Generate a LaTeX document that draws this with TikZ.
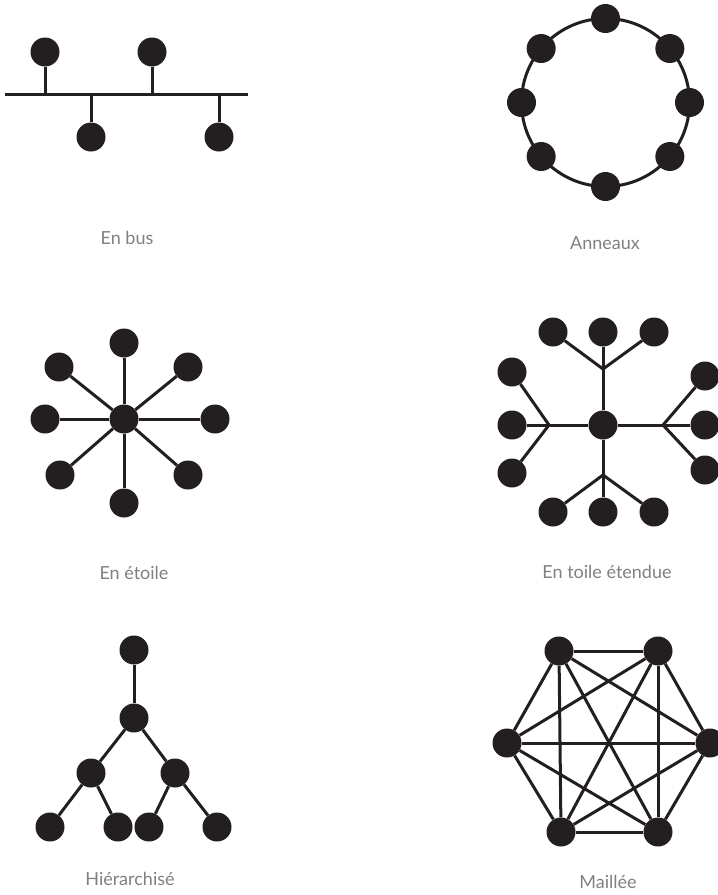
\documentclass[tikz,border=0pt]{standalone}
\usepackage{fontspec}
\setmainfont{Lato}
\usetikzlibrary{calc}
\definecolor{ink}{HTML}{231F20}
\definecolor{caption}{HTML}{808080}

\begin{document}
\begin{tikzpicture}[
        x=1pt, y=-1pt,
        dot/.style={circle, fill=ink, minimum size=29pt, inner sep=0pt},
        link/.style={draw=ink, line width=3pt},
        legend/.style={text=caption, font=\fontsize{18}{21}\selectfont}
    ]
        \useasboundingbox (0,0) rectangle (718,895);

        % en bus
        \coordinate (busL) at (5,94);
        \coordinate (busR) at (248,94);
        \node[dot] (b1) at (45,52) {};
        \node[dot] (b2) at (152,52) {};
        \node[dot] (b3) at (91,137) {};
        \node[dot] (b4) at (219,137) {};
        \draw[link] (busL) -- (busR);
        \draw[link] (b1) -- (b1 |- busL);
        \draw[link] (b2) -- (b2 |- busL);
        \draw[link] (b3) -- (b3 |- busL);
        \draw[link] (b4) -- (b4 |- busL);
        \node[legend] (lbus) at (127,238) {En bus};

        % anneaux
        \coordinate (ringC) at (605.5,102.5);
        \draw[link] (ringC) circle[radius=84pt];
        \foreach \a [count=\i] in {90,40,0,-40,-90,-140,180,140}
            \node[dot] (r\i) at ($(ringC)+(\a:84pt)$) {};
        \node[legend] (lring) at (605,243) {Anneaux};

        % en etoile
        \node[dot] (s0) at (124,419) {};
        \node[dot] (s1) at (124,343) {};
        \node[dot] (s2) at (188,367) {};
        \node[dot] (s3) at (215,419) {};
        \node[dot] (s4) at (188,475) {};
        \node[dot] (s5) at (124,503) {};
        \node[dot] (s6) at (60,475) {};
        \node[dot] (s7) at (45,419) {};
        \node[dot] (s8) at (59,367) {};
        \foreach \i in {1,...,8}
            \draw[link] (s0) -- (s\i);
        \node[legend] (lstar) at (134,573) {En étoile};

        % en toile etendue
        \node[dot] (t0) at (603,425) {};
        \coordinate (tTop) at (603,369);
        \coordinate (tBot) at (603,475);
        \coordinate (tLeft) at (549,425);
        \coordinate (tRight) at (663,425);
        \node[dot] (tt1) at (553,332) {};
        \node[dot] (tt2) at (603,332) {};
        \node[dot] (tt3) at (654,332) {};
        \node[dot] (tb1) at (553,512) {};
        \node[dot] (tb2) at (603,512) {};
        \node[dot] (tb3) at (654,512) {};
        \node[dot] (tl1) at (512,372) {};
        \node[dot] (tl2) at (512,425) {};
        \node[dot] (tl3) at (512,473) {};
        \node[dot] (tr1) at (705,376) {};
        \node[dot] (tr2) at (705,425) {};
        \node[dot] (tr3) at (705,470) {};
        \draw[link] (t0) -- (tTop) (t0) -- (tBot) (t0) -- (tLeft) (t0) -- (tRight);
        \foreach \i in {1,2,3} {
            \draw[link] (tTop) -- (tt\i);
            \draw[link] (tBot) -- (tb\i);
            \draw[link] (tLeft) -- (tl\i);
            \draw[link] (tRight) -- (tr\i);
        }
        \node[legend] (ltoile) at (607,572) {En toile étendue};

        % hierarchise
        \node[dot] (h1) at (134,650) {};
        \node[dot] (h2) at (134,718) {};
        \node[dot] (h3) at (91,773) {};
        \node[dot] (h4) at (175,773) {};
        \node[dot] (h5) at (50,827) {};
        \node[dot] (h6) at (118,827) {};
        \node[dot] (h7) at (149,827) {};
        \node[dot] (h8) at (217,827) {};
        \draw[link] (h1) -- (h2);
        \draw[link] (h2) -- (h3);
        \draw[link] (h2) -- (h4);
        \draw[link] (h3) -- (h5);
        \draw[link] (h3) -- (h6);
        \draw[link] (h4) -- (h7);
        \draw[link] (h4) -- (h8);
        \node[legend] (lhier) at (130,879) {Hiérarchisé};

        % maillee
        \node[dot] (m1) at (559,651) {};
        \node[dot] (m2) at (658,651) {};
        \node[dot] (m3) at (710,743) {};
        \node[dot] (m4) at (658,832) {};
        \node[dot] (m5) at (561,832) {};
        \node[dot] (m6) at (507,743) {};
        \foreach \i/\j in {1/2,1/3,1/4,1/5,1/6,2/3,2/4,2/5,2/6,3/4,3/5,3/6,4/5,4/6,5/6}
            \draw[link] (m\i) -- (m\j);
        \node[legend] (lmesh) at (608,882) {Maillée};
    \end{tikzpicture}
\end{document}
